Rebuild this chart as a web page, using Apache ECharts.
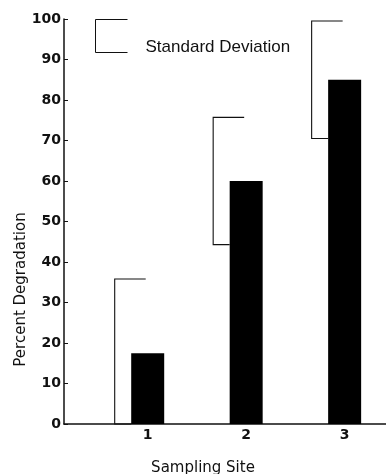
<!DOCTYPE html>
<html>
<head>
<meta charset="utf-8">
<script src="https://cdn.jsdelivr.net/npm/echarts@6/dist/echarts.min.js"></script>
<style>html,body{margin:0;padding:0;background:#fff}#c{width:386px;height:474px}</style>
</head>
<body>
<div id="c"></div>
<script>
// Data
var sites = [1, 2, 3];
var siteLabels = ['1', '2', '3'];
var meanDegradation = [17.5, 60, 85];
var stdDeviation = [18.3, 15.7, 14.5];
var yTicks = [0, 10, 20, 30, 40, 50, 60, 70, 80, 90, 100];

var chart = echarts.init(document.getElementById('c'), null, {renderer: 'canvas'});
var FONT = 'Liberation Sans, Arial, Helvetica, sans-serif';
var WIDE = 'DejaVu Sans, Liberation Sans, sans-serif';
var INK = '#111';

var barData = sites.map(function (s, i) { return [s, meanDegradation[i]]; });
var sdData = sites.map(function (s, i) { return [s, meanDegradation[i], stdDeviation[i]]; });

chart.setOption({
  animation: false,
  backgroundColor: '#fff',
  grid: {left: 64, right: 0, top: 19, bottom: 50, containLabel: false, outerBoundsMode: 'none'},
  legend: {
    data: [{name: 'Standard Deviation', icon: 'path://M32,0 L0,0 L0,33 L32,33'}],
    left: 93, top: 17, padding: 0,
    itemWidth: 32, itemHeight: 33,
    selectedMode: false,
    itemStyle: {color: 'none', borderColor: INK, borderWidth: 1},
    formatter: '{t|{name}}',
    textStyle: {
      fontFamily: FONT, fontSize: 17, color: INK,
      rich: {t: {fontFamily: FONT, fontSize: 17, color: INK, padding: [22, 0, 0, 13]}}
    }
  },
  xAxis: {
    type: 'value', min: 0.15, max: 3.42,
    name: 'Sampling Site', nameLocation: 'middle', nameGap: 37, nameMoveOverlap: false,
    nameTextStyle: {fontFamily: WIDE, fontSize: 15, color: INK, padding: [0, 44, 0, 0]},
    axisLine: {show: true, onZero: false, lineStyle: {color: INK, width: 1.5}},
    axisTick: {show: false},
    splitLine: {show: false},
    axisLabel: {
      customValues: sites,
      formatter: function (v) { var i = sites.indexOf(v); return i >= 0 ? siteLabels[i] : ''; },
      fontFamily: WIDE, fontWeight: 'bold', fontSize: 14, color: INK, margin: 4
    }
  },
  yAxis: {
    type: 'value', min: 0, max: 100, interval: 10,
    name: 'Percent Degradation', nameLocation: 'middle', nameGap: 35, nameRotate: 90, nameMoveOverlap: false,
    nameTextStyle: {fontFamily: WIDE, fontSize: 15, color: INK, padding: [0, 136, 0, 0]},
    axisLine: {show: true, lineStyle: {color: INK, width: 1.5}},
    axisTick: {show: true, inside: true, length: 4, lineStyle: {color: INK, width: 1}},
    splitLine: {show: false},
    axisLabel: {
      customValues: yTicks,
      fontFamily: WIDE, fontWeight: 'bold', fontSize: 14, color: INK, margin: 3
    }
  },
  series: [
    {
      type: 'bar', name: 'Mean', data: barData, barWidth: 33,
      itemStyle: {color: '#000'}, z: 2
    },
    {
      type: 'custom', name: 'Standard Deviation', data: sdData, z: 3,
      renderItem: function (params, api) {
        var s = api.value(0), m = api.value(1), sd = api.value(2);
        var c = api.coord([s, m]);
        var hi = api.coord([s, m + sd]);
        var lo = api.coord([s, Math.max(0, m - sd)]);
        var vx = c[0] - 33;
        var barLeft = c[0] - 16.5;
        return {
          type: 'polyline',
          shape: {points: [[c[0] - 2, hi[1]], [vx, hi[1]], [vx, lo[1]], [barLeft, lo[1]]]},
          style: {stroke: INK, lineWidth: 1.1, fill: null}
        };
      }
    }
  ]
});
</script>
</body>
</html>
